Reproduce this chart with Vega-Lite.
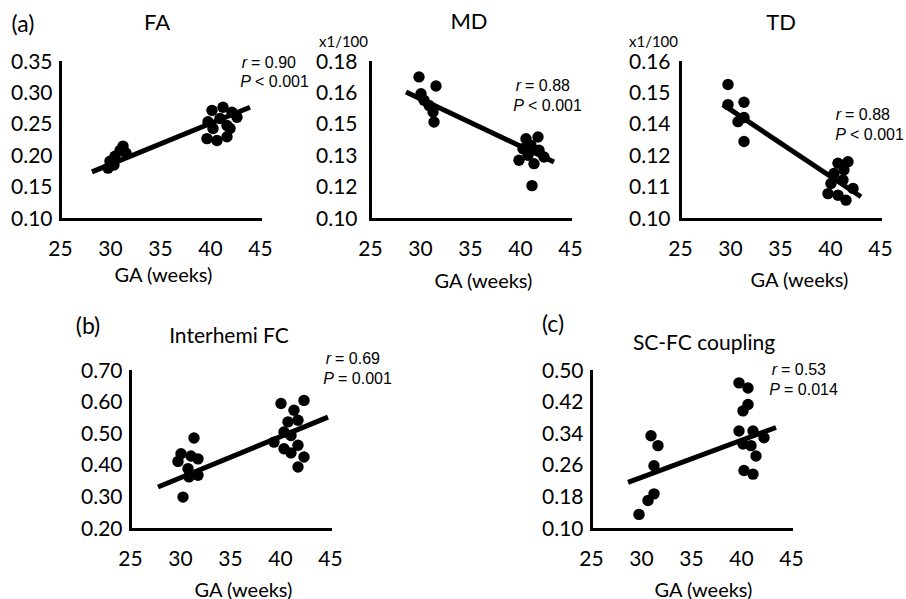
{
  "$schema": "https://vega.github.io/schema/vega-lite/v6.json",
  "background": "white",
  "padding": {"left": 10, "top": 10, "right": 5, "bottom": 5},
  "config": {
    "view": {"stroke": null},
    "axis": {"domainColor": "black", "domainWidth": 3, "domainCap": "square", "ticks": false, "tickSize": 0, "grid": false,
      "labelFont": "Lato", "labelFontSize": 21, "labelColor": "black", "labelOverlap": false, "labelFlush": false, "labelBound": false,
      "titleFont": "Lato", "titleFontSize": 20, "titleFontWeight": "normal", "titleColor": "black"},
    "axisX": {"labelPadding": 30, "labelBaseline": "middle", "titleBaseline": "middle", "titleAlign": "center"},
    "axisY": {"labelPadding": 8, "labelBaseline": "middle"}
  },
  "datasets": {
    "points": [
      {"panel": "FA", "ga": 31.3, "value": 0.216}, {"panel": "FA", "ga": 31.0, "value": 0.209}, {"panel": "FA", "ga": 31.6, "value": 0.205},
      {"panel": "FA", "ga": 30.5, "value": 0.200}, {"panel": "FA", "ga": 30.0, "value": 0.192}, {"panel": "FA", "ga": 30.4, "value": 0.186},
      {"panel": "FA", "ga": 29.8, "value": 0.181},
      {"panel": "FA", "ga": 40.2, "value": 0.273}, {"panel": "FA", "ga": 41.3, "value": 0.278}, {"panel": "FA", "ga": 42.2, "value": 0.270},
      {"panel": "FA", "ga": 42.7, "value": 0.262}, {"panel": "FA", "ga": 39.8, "value": 0.255}, {"panel": "FA", "ga": 41.0, "value": 0.260},
      {"panel": "FA", "ga": 40.3, "value": 0.244}, {"panel": "FA", "ga": 41.7, "value": 0.249}, {"panel": "FA", "ga": 39.7, "value": 0.228},
      {"panel": "FA", "ga": 40.7, "value": 0.225}, {"panel": "FA", "ga": 41.7, "value": 0.231}, {"panel": "FA", "ga": 42.0, "value": 0.244},
      {"panel": "MD", "ga": 29.9, "value": 0.1724}, {"panel": "MD", "ga": 31.6, "value": 0.1678}, {"panel": "MD", "ga": 30.1, "value": 0.1638},
      {"panel": "MD", "ga": 30.4, "value": 0.1605}, {"panel": "MD", "ga": 30.9, "value": 0.1579}, {"panel": "MD", "ga": 31.3, "value": 0.1545},
      {"panel": "MD", "ga": 31.4, "value": 0.1494},
      {"panel": "MD", "ga": 40.6, "value": 0.1409}, {"panel": "MD", "ga": 41.8, "value": 0.1418}, {"panel": "MD", "ga": 40.3, "value": 0.1358},
      {"panel": "MD", "ga": 41.1, "value": 0.1376}, {"panel": "MD", "ga": 41.9, "value": 0.1350}, {"panel": "MD", "ga": 42.4, "value": 0.1316},
      {"panel": "MD", "ga": 39.9, "value": 0.1299}, {"panel": "MD", "ga": 41.4, "value": 0.1282}, {"panel": "MD", "ga": 40.8, "value": 0.1325},
      {"panel": "MD", "ga": 41.2, "value": 0.1170},
      {"panel": "TD", "ga": 29.8, "value": 0.1514}, {"panel": "TD", "ga": 29.8, "value": 0.1437}, {"panel": "TD", "ga": 31.4, "value": 0.1446},
      {"panel": "TD", "ga": 30.8, "value": 0.1372}, {"panel": "TD", "ga": 31.4, "value": 0.1388}, {"panel": "TD", "ga": 31.4, "value": 0.1296},
      {"panel": "TD", "ga": 40.8, "value": 0.1213}, {"panel": "TD", "ga": 41.8, "value": 0.1219}, {"panel": "TD", "ga": 40.4, "value": 0.1174},
      {"panel": "TD", "ga": 41.4, "value": 0.1187}, {"panel": "TD", "ga": 40.1, "value": 0.1136}, {"panel": "TD", "ga": 41.3, "value": 0.1149},
      {"panel": "TD", "ga": 42.3, "value": 0.1117}, {"panel": "TD", "ga": 39.8, "value": 0.1097}, {"panel": "TD", "ga": 40.8, "value": 0.1091},
      {"panel": "TD", "ga": 41.6, "value": 0.1072},
      {"panel": "IH", "ga": 31.4, "value": 0.488}, {"panel": "IH", "ga": 30.1, "value": 0.438}, {"panel": "IH", "ga": 31.1, "value": 0.431},
      {"panel": "IH", "ga": 31.8, "value": 0.422}, {"panel": "IH", "ga": 29.8, "value": 0.414}, {"panel": "IH", "ga": 30.8, "value": 0.391},
      {"panel": "IH", "ga": 31.8, "value": 0.370}, {"panel": "IH", "ga": 30.9, "value": 0.365}, {"panel": "IH", "ga": 30.3, "value": 0.301},
      {"panel": "IH", "ga": 40.1, "value": 0.597}, {"panel": "IH", "ga": 42.4, "value": 0.607}, {"panel": "IH", "ga": 41.4, "value": 0.576},
      {"panel": "IH", "ga": 40.8, "value": 0.539}, {"panel": "IH", "ga": 41.8, "value": 0.544}, {"panel": "IH", "ga": 40.4, "value": 0.507},
      {"panel": "IH", "ga": 39.4, "value": 0.475}, {"panel": "IH", "ga": 41.1, "value": 0.496}, {"panel": "IH", "ga": 40.4, "value": 0.454},
      {"panel": "IH", "ga": 41.1, "value": 0.441}, {"panel": "IH", "ga": 41.8, "value": 0.465}, {"panel": "IH", "ga": 42.4, "value": 0.428},
      {"panel": "IH", "ga": 41.8, "value": 0.396},
      {"panel": "SC", "ga": 31.0, "value": 0.336}, {"panel": "SC", "ga": 31.7, "value": 0.311}, {"panel": "SC", "ga": 31.3, "value": 0.260},
      {"panel": "SC", "ga": 31.3, "value": 0.189}, {"panel": "SC", "ga": 30.7, "value": 0.172}, {"panel": "SC", "ga": 29.8, "value": 0.137},
      {"panel": "SC", "ga": 39.8, "value": 0.470}, {"panel": "SC", "ga": 40.7, "value": 0.457}, {"panel": "SC", "ga": 40.7, "value": 0.415},
      {"panel": "SC", "ga": 40.2, "value": 0.399}, {"panel": "SC", "ga": 39.8, "value": 0.348}, {"panel": "SC", "ga": 41.2, "value": 0.348},
      {"panel": "SC", "ga": 42.3, "value": 0.331}, {"panel": "SC", "ga": 40.2, "value": 0.315}, {"panel": "SC", "ga": 41.0, "value": 0.311},
      {"panel": "SC", "ga": 41.5, "value": 0.285}, {"panel": "SC", "ga": 40.3, "value": 0.248}, {"panel": "SC", "ga": 41.2, "value": 0.239}
    ],
    "fits": [
      {"panel": "FA", "ga": 28.2, "value": 0.175}, {"panel": "FA", "ga": 44.0, "value": 0.278},
      {"panel": "MD", "ga": 28.6, "value": 0.1647}, {"panel": "MD", "ga": 43.4, "value": 0.129},
      {"panel": "TD", "ga": 29.3, "value": 0.1437}, {"panel": "TD", "ga": 43.1, "value": 0.1085},
      {"panel": "IH", "ga": 27.8, "value": 0.333}, {"panel": "IH", "ga": 44.8, "value": 0.554},
      {"panel": "SC", "ga": 28.7, "value": 0.218}, {"panel": "SC", "ga": 43.5, "value": 0.357}
    ],
    "notes": [
      {"panel": "FA", "role": "stat", "ga": 43.7, "value": 0.3484, "sym": "r", "rest": "= 0.90"},
      {"panel": "FA", "role": "stat", "ga": 44.1, "value": 0.318, "sym": "P", "rest": "< 0.001"},
      {"panel": "FA", "role": "title", "ga": 34.7, "value": 0.412, "text": "FA"},
      {"panel": "FA", "role": "tag", "ga": 21.3, "value": 0.409, "text": "(a)"},
      {"panel": "MD", "role": "stat", "ga": 40.1, "value": 0.1678, "sym": "r", "rest": "= 0.88"},
      {"panel": "MD", "role": "stat", "ga": 40.4, "value": 0.1576, "sym": "P", "rest": "< 0.001"},
      {"panel": "MD", "role": "title", "ga": 34.9, "value": 0.2004, "text": "MD"},
      {"panel": "TD", "role": "stat", "ga": 41.1, "value": 0.1397, "sym": "r", "rest": "= 0.88"},
      {"panel": "TD", "role": "stat", "ga": 41.6, "value": 0.1321, "sym": "P", "rest": "< 0.001"},
      {"panel": "TD", "role": "title", "ga": 35.1, "value": 0.1749, "text": "TD"},
      {"panel": "IH", "role": "stat", "ga": 45.1, "value": 0.738, "sym": "r", "rest": "= 0.69"},
      {"panel": "IH", "role": "stat", "ga": 45.4, "value": 0.675, "sym": "P", "rest": "= 0.001"},
      {"panel": "IH", "role": "title", "ga": 34.9, "value": 0.8076, "text": "Interhemi FC"},
      {"panel": "IH", "role": "tag", "ga": 20.8, "value": 0.839, "text": "(b)"},
      {"panel": "SC", "role": "stat", "ga": 43.6, "value": 0.5025, "sym": "r", "rest": "= 0.53"},
      {"panel": "SC", "role": "stat", "ga": 43.9, "value": 0.452, "sym": "P", "rest": "= 0.014"},
      {"panel": "SC", "role": "title", "ga": 36.3, "value": 0.568, "text": "SC-FC coupling"},
      {"panel": "SC", "role": "tag", "ga": 21.2, "value": 0.616, "text": "(c)"}
    ]
  },
  "bounds": "flush",
  "spacing": 309,
  "vconcat": [
    {
      "bounds": "flush",
      "spacing": 110,
      "hconcat": [
        {
          "width": 200, "height": 157,
          "encoding": {
            "x": {"field": "ga", "type": "quantitative", "scale": {"domain": [25, 45], "nice": false, "zero": false},
              "axis": {"values": [25, 30, 35, 40, 45], "title": "GA (weeks)", "titleX": 103, "titleY": 56}},
            "y": {"field": "value", "type": "quantitative", "scale": {"domain": [0.1, 0.35], "nice": false, "zero": false},
              "axis": {"values": [0.1, 0.15, 0.2, 0.25, 0.3, 0.35], "format": ".2f", "title": null}}
          },
          "layer": [
            {"data": {"name": "points"}, "transform": [{"filter": "datum.panel === 'FA'"}], "mark": {"type": "circle", "size": 130, "color": "black", "opacity": 1}},
            {"data": {"name": "fits"}, "transform": [{"filter": "datum.panel === 'FA'"}], "mark": {"type": "line", "color": "black", "strokeWidth": 5}},
            {"data": {"name": "notes"}, "transform": [{"filter": "datum.panel === 'FA' && datum.role === 'stat'"}], "mark": {"type": "text", "align": "right", "baseline": "middle", "font": "Liberation Sans", "fontSize": 16, "fontStyle": "italic", "color": "black"}, "encoding": {"text": {"field": "sym"}}},
            {"data": {"name": "notes"}, "transform": [{"filter": "datum.panel === 'FA' && datum.role === 'stat'"}], "mark": {"type": "text", "align": "left", "baseline": "middle", "dx": 4, "font": "Liberation Sans", "fontSize": 16, "color": "black"}, "encoding": {"text": {"field": "rest"}}},
            {"data": {"name": "notes"}, "transform": [{"filter": "datum.panel === 'FA' && datum.role === 'title'"}], "mark": {"type": "text", "align": "center", "baseline": "middle", "font": "Lato", "fontSize": 22, "color": "black"}, "encoding": {"text": {"field": "text"}}},
            {"data": {"name": "notes"}, "transform": [{"filter": "datum.panel === 'FA' && datum.role === 'tag'"}], "mark": {"type": "text", "align": "center", "baseline": "middle", "font": "Lato", "fontSize": 23, "color": "black"}, "encoding": {"text": {"field": "text"}}}
          ]
        },
        {
          "width": 200, "height": 157,
          "encoding": {
            "x": {"field": "ga", "type": "quantitative", "scale": {"domain": [25, 45], "nice": false, "zero": false},
              "axis": {"values": [25, 30, 35, 40, 45], "title": "GA (weeks)", "titleX": 113, "titleY": 62}},
            "y": {"field": "value", "type": "quantitative", "scale": {"domain": [0.1, 0.18], "nice": false, "zero": false},
              "axis": {"values": [0.1, 0.116, 0.132, 0.148, 0.164, 0.18], "format": ".2f", "labelPadding": 13,
                "title": "x1/100", "titleAngle": 0, "titleX": -27, "titleY": -21, "titleAlign": "center", "titleBaseline": "middle", "titleFontSize": 15}}
          },
          "layer": [
            {"data": {"name": "points"}, "transform": [{"filter": "datum.panel === 'MD'"}], "mark": {"type": "circle", "size": 130, "color": "black", "opacity": 1}},
            {"data": {"name": "fits"}, "transform": [{"filter": "datum.panel === 'MD'"}], "mark": {"type": "line", "color": "black", "strokeWidth": 5}},
            {"data": {"name": "notes"}, "transform": [{"filter": "datum.panel === 'MD' && datum.role === 'stat'"}], "mark": {"type": "text", "align": "right", "baseline": "middle", "font": "Liberation Sans", "fontSize": 16, "fontStyle": "italic", "color": "black"}, "encoding": {"text": {"field": "sym"}}},
            {"data": {"name": "notes"}, "transform": [{"filter": "datum.panel === 'MD' && datum.role === 'stat'"}], "mark": {"type": "text", "align": "left", "baseline": "middle", "dx": 4, "font": "Liberation Sans", "fontSize": 16, "color": "black"}, "encoding": {"text": {"field": "rest"}}},
            {"data": {"name": "notes"}, "transform": [{"filter": "datum.panel === 'MD' && datum.role === 'title'"}], "mark": {"type": "text", "align": "center", "baseline": "middle", "font": "Lato", "fontSize": 22, "color": "black"}, "encoding": {"text": {"field": "text"}}}
          ]
        },
        {
          "width": 200, "height": 157,
          "encoding": {
            "x": {"field": "ga", "type": "quantitative", "scale": {"domain": [25, 45], "nice": false, "zero": false},
              "axis": {"values": [25, 30, 35, 40, 45], "title": "GA (weeks)", "titleX": 119, "titleY": 61}},
            "y": {"field": "value", "type": "quantitative", "scale": {"domain": [0.1, 0.16], "nice": false, "zero": false},
              "axis": {"values": [0.1, 0.112, 0.124, 0.136, 0.148, 0.16], "format": ".2f", "labelPadding": 10,
                "title": "x1/100", "titleAngle": 0, "titleX": -27, "titleY": -21, "titleAlign": "center", "titleBaseline": "middle", "titleFontSize": 15}}
          },
          "layer": [
            {"data": {"name": "points"}, "transform": [{"filter": "datum.panel === 'TD'"}], "mark": {"type": "circle", "size": 130, "color": "black", "opacity": 1}},
            {"data": {"name": "fits"}, "transform": [{"filter": "datum.panel === 'TD'"}], "mark": {"type": "line", "color": "black", "strokeWidth": 5}},
            {"data": {"name": "notes"}, "transform": [{"filter": "datum.panel === 'TD' && datum.role === 'stat'"}], "mark": {"type": "text", "align": "right", "baseline": "middle", "font": "Liberation Sans", "fontSize": 16, "fontStyle": "italic", "color": "black"}, "encoding": {"text": {"field": "sym"}}},
            {"data": {"name": "notes"}, "transform": [{"filter": "datum.panel === 'TD' && datum.role === 'stat'"}], "mark": {"type": "text", "align": "left", "baseline": "middle", "dx": 4, "font": "Liberation Sans", "fontSize": 16, "color": "black"}, "encoding": {"text": {"field": "rest"}}},
            {"data": {"name": "notes"}, "transform": [{"filter": "datum.panel === 'TD' && datum.role === 'title'"}], "mark": {"type": "text", "align": "center", "baseline": "middle", "font": "Lato", "fontSize": 22, "color": "black"}, "encoding": {"text": {"field": "text"}}}
          ]
        }
      ]
    },
    {
      "bounds": "flush",
      "spacing": 0,
      "hconcat": [
        {"width": 70, "height": 158, "data": {"values": []}, "mark": {"type": "point"}, "encoding": {}},
        {
          "width": 200, "height": 158,
          "encoding": {
            "x": {"field": "ga", "type": "quantitative", "scale": {"domain": [25, 45], "nice": false, "zero": false},
              "axis": {"values": [25, 30, 35, 40, 45], "title": "GA (weeks)", "titleX": 113, "titleY": 61}},
            "y": {"field": "value", "type": "quantitative", "scale": {"domain": [0.2, 0.7], "nice": false, "zero": false},
              "axis": {"values": [0.2, 0.3, 0.4, 0.5, 0.6, 0.7], "format": ".2f", "title": null}}
          },
          "layer": [
            {"data": {"name": "points"}, "transform": [{"filter": "datum.panel === 'IH'"}], "mark": {"type": "circle", "size": 130, "color": "black", "opacity": 1}},
            {"data": {"name": "fits"}, "transform": [{"filter": "datum.panel === 'IH'"}], "mark": {"type": "line", "color": "black", "strokeWidth": 5}},
            {"data": {"name": "notes"}, "transform": [{"filter": "datum.panel === 'IH' && datum.role === 'stat'"}], "mark": {"type": "text", "align": "right", "baseline": "middle", "font": "Liberation Sans", "fontSize": 16, "fontStyle": "italic", "color": "black"}, "encoding": {"text": {"field": "sym"}}},
            {"data": {"name": "notes"}, "transform": [{"filter": "datum.panel === 'IH' && datum.role === 'stat'"}], "mark": {"type": "text", "align": "left", "baseline": "middle", "dx": 4, "font": "Liberation Sans", "fontSize": 16, "color": "black"}, "encoding": {"text": {"field": "rest"}}},
            {"data": {"name": "notes"}, "transform": [{"filter": "datum.panel === 'IH' && datum.role === 'title'"}], "mark": {"type": "text", "align": "center", "baseline": "middle", "font": "Lato", "fontSize": 21, "color": "black"}, "encoding": {"text": {"field": "text"}}},
            {"data": {"name": "notes"}, "transform": [{"filter": "datum.panel === 'IH' && datum.role === 'tag'"}], "mark": {"type": "text", "align": "center", "baseline": "middle", "font": "Lato", "fontSize": 23, "color": "black"}, "encoding": {"text": {"field": "text"}}}
          ]
        },
        {"width": 261, "height": 158, "data": {"values": []}, "mark": {"type": "point"}, "encoding": {}},
        {
          "width": 200, "height": 158,
          "encoding": {
            "x": {"field": "ga", "type": "quantitative", "scale": {"domain": [25, 45], "nice": false, "zero": false},
              "axis": {"values": [25, 30, 35, 40, 45], "title": "GA (weeks)", "titleX": 112, "titleY": 61}},
            "y": {"field": "value", "type": "quantitative", "scale": {"domain": [0.1, 0.5], "nice": false, "zero": false},
              "axis": {"values": [0.1, 0.18, 0.26, 0.34, 0.42, 0.5], "format": ".2f", "title": null}}
          },
          "layer": [
            {"data": {"name": "points"}, "transform": [{"filter": "datum.panel === 'SC'"}], "mark": {"type": "circle", "size": 130, "color": "black", "opacity": 1}},
            {"data": {"name": "fits"}, "transform": [{"filter": "datum.panel === 'SC'"}], "mark": {"type": "line", "color": "black", "strokeWidth": 5}},
            {"data": {"name": "notes"}, "transform": [{"filter": "datum.panel === 'SC' && datum.role === 'stat'"}], "mark": {"type": "text", "align": "right", "baseline": "middle", "font": "Liberation Sans", "fontSize": 16, "fontStyle": "italic", "color": "black"}, "encoding": {"text": {"field": "sym"}}},
            {"data": {"name": "notes"}, "transform": [{"filter": "datum.panel === 'SC' && datum.role === 'stat'"}], "mark": {"type": "text", "align": "left", "baseline": "middle", "dx": 4, "font": "Liberation Sans", "fontSize": 16, "color": "black"}, "encoding": {"text": {"field": "rest"}}},
            {"data": {"name": "notes"}, "transform": [{"filter": "datum.panel === 'SC' && datum.role === 'title'"}], "mark": {"type": "text", "align": "center", "baseline": "middle", "font": "Lato", "fontSize": 21, "color": "black"}, "encoding": {"text": {"field": "text"}}},
            {"data": {"name": "notes"}, "transform": [{"filter": "datum.panel === 'SC' && datum.role === 'tag'"}], "mark": {"type": "text", "align": "center", "baseline": "middle", "font": "Lato", "fontSize": 23, "color": "black"}, "encoding": {"text": {"field": "text"}}}
          ]
        }
      ]
    }
  ]
}
